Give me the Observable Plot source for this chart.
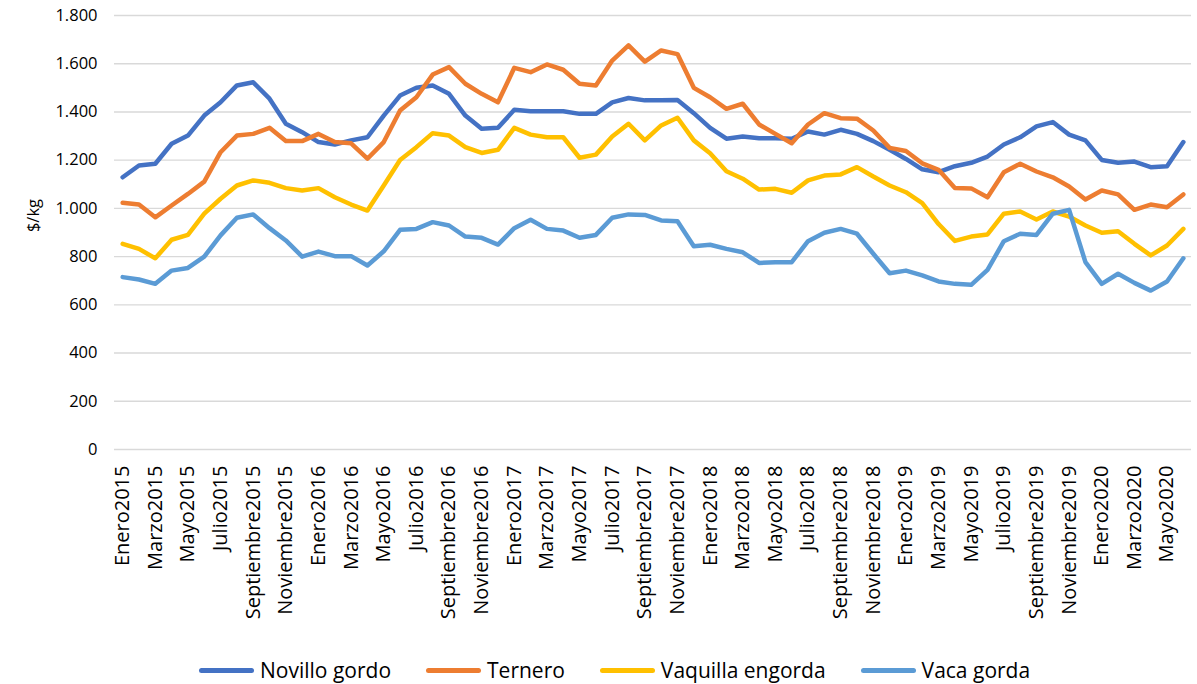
<!DOCTYPE html>
<html>
<head>
<meta charset="utf-8">
<script src="https://cdn.jsdelivr.net/npm/d3@7"></script>
<script src="https://cdn.jsdelivr.net/npm/@observablehq/plot@0.6"></script>
<style>
  html, body { margin: 0; padding: 0; background: #fff; }
  #chart { width: 1197px; }
  #legend {
    width: 1197px; height: 44px; box-sizing: border-box; padding-top: 16px; padding-left: 199px;
    display: flex; justify-content: flex-start; align-items: center; gap: 35px;
    font-family: "Open Sans", sans-serif; font-size: 21px; color: #000;
  }
  .item { display: flex; align-items: center; }
  .swatch { width: 55px; height: 5px; border-radius: 3px; margin-right: 6px; }
</style>
</head>
<body>
<div id="chart"></div>
<div id="legend"></div>
<script>
const monthNames = ["Enero","Febrero","Marzo","Abril","Mayo","Junio","Julio","Agosto","Septiembre","Octubre","Noviembre","Diciembre"];
const years = [2015, 2016, 2017, 2018, 2019, 2020];
const nMonths = 66;
const periods = [];
for (const y of years) for (const m of monthNames) if (periods.length < nMonths) periods.push(m + y);

const seriesNames = ["Novillo gordo", "Ternero", "Vaquilla engorda", "Vaca gorda"];
const seriesColors = ["#4472C4", "#ED7D31", "#FFC000", "#5B9BD5"];
const yTicks = [0, 200, 400, 600, 800, 1000, 1200, 1400, 1600, 1800];

const novilloGordo = [
  1129, 1178, 1185, 1268, 1302, 1385, 1440, 1510, 1523, 1455,
  1351, 1316, 1275, 1265, 1282, 1295, 1385, 1468, 1500, 1510,
  1475, 1385, 1330, 1334, 1409, 1403, 1403, 1403, 1392, 1392,
  1440, 1458, 1448, 1448, 1450, 1395, 1334, 1289, 1298, 1291,
  1291, 1289, 1319, 1306, 1326, 1309, 1279, 1243, 1205, 1162,
  1150, 1175, 1189, 1215, 1265, 1295, 1340, 1358, 1306, 1282,
  1201, 1189, 1194, 1171, 1175, 1275
];
const ternero = [
  1023, 1016, 963, 1012, 1060, 1111, 1233, 1302, 1309, 1334,
  1279, 1279, 1309, 1275, 1270, 1206, 1275, 1406, 1461, 1555,
  1586, 1517, 1475, 1440, 1583, 1565, 1597, 1575, 1517, 1510,
  1613, 1676, 1609, 1655, 1640, 1500, 1461, 1413, 1434, 1348,
  1309, 1270, 1348, 1395, 1374, 1372, 1323, 1251, 1238, 1187,
  1160, 1085, 1083, 1046, 1150, 1185, 1153, 1129, 1091, 1037,
  1074, 1058, 994, 1016, 1005, 1058
];
const vaquillaEngorda = [
  853, 832, 793, 870, 890, 978, 1040, 1095, 1116, 1106,
  1084, 1074, 1084, 1046, 1016, 991, 1095, 1201, 1254, 1312,
  1302, 1254, 1230, 1243, 1334, 1306, 1295, 1295, 1210, 1223,
  1298, 1351, 1282, 1344, 1376, 1282, 1229, 1154, 1123, 1078,
  1081, 1065, 1116, 1136, 1141, 1171, 1132, 1095, 1067, 1022,
  935, 865, 883, 892, 978, 987, 954, 987, 966, 929,
  899, 905, 853, 805, 846, 915
];
const vacaGorda = [
  715, 705, 687, 742, 753, 800, 888, 961, 975, 918,
  867, 800, 821, 802, 802, 763, 822, 911, 915, 943,
  929, 883, 878, 850, 918, 953, 915, 908, 878, 890,
  961, 975, 973, 950, 947, 843, 849, 832, 818, 774,
  777, 777, 864, 899, 915, 895, 812, 731, 742, 722,
  697, 687, 683, 745, 864, 895, 890, 978, 994, 777,
  687, 729, 691, 659, 697, 793
];

const seriesValues = [novilloGordo, ternero, vaquillaEngorda, vacaGorda];
const data = [];
seriesNames.forEach((s, k) => seriesValues[k].forEach((v, i) => data.push({series: s, period: periods[i], value: v})));

const fmt = d => d3.format(",")(d).replace(/,/g, ".");

const chart = Plot.plot({
  width: 1197,
  height: 640,
  marginLeft: 114,
  marginRight: 6,
  marginTop: 15,
  marginBottom: 191,
  style: {fontFamily: "'Open Sans', sans-serif", color: "#000", background: "#fff"},
  x: {type: "point", domain: periods, padding: 0.5, round: false},
  y: {domain: [0, 1800]},
  color: {domain: seriesNames, range: seriesColors},
  marks: [
    Plot.gridY(yTicks, {stroke: "#d9d9d9", strokeOpacity: 1, strokeWidth: 1.4}),
    Plot.axisY(yTicks, {
      tickSize: 0, tickPadding: 17, tickFormat: fmt, fontSize: 16.5,
      label: "$/kg", labelAnchor: "center", labelArrow: "none", labelOffset: 87
    }),
    Plot.axisX(periods.filter((d, i) => i % 2 === 0), {
      tickSize: 0, tickRotate: -90, tickPadding: 16, fontSize: 20, label: null
    }),
    Plot.lineY(data, {
      x: "period", y: "value", z: "series", stroke: "series",
      strokeWidth: 4.5, strokeLinejoin: "round", strokeLinecap: "round"
    })
  ]
});
document.getElementById("chart").appendChild(chart);

// nudge the y-axis title up slightly, as in the original
const yl = chart.querySelector('g[aria-label="y-axis label"]');
if (yl) yl.setAttribute("transform", ((yl.getAttribute("transform") || "") + " translate(0,-17)").trim());

const legend = document.getElementById("legend");
seriesNames.forEach((s, k) => {
  const item = document.createElement("div");
  item.className = "item";
  const sw = document.createElement("div");
  sw.className = "swatch";
  sw.style.background = seriesColors[k];
  const t = document.createElement("span");
  t.textContent = s;
  item.appendChild(sw);
  item.appendChild(t);
  legend.appendChild(item);
});
</script>
</body>
</html>
